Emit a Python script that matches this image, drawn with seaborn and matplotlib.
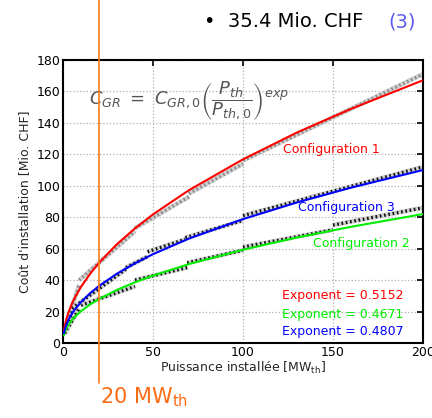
import matplotlib
matplotlib.use("Agg")
import matplotlib.pyplot as plt
import seaborn as sns
import pandas as pd

# fitted curves
power = [0.5, 1, 2, 3, 4, 5.5, 7, 10, 15, 20, 30, 40, 50, 70, 100, 130, 160, 200]
fit_conf1 = [7.6, 10.9, 15.6, 19.3, 22.3, 26.3, 29.7, 35.7, 43.9, 51.0, 62.9, 72.9, 81.8, 97.2, 116.8, 133.9, 148.9, 167.1]
fit_conf2 = [5.0, 6.9, 9.5, 11.5, 13.2, 15.3, 17.1, 20.2, 24.5, 27.9, 33.8, 38.6, 42.9, 50.2, 59.3, 67.1, 73.9, 82.0]
fit_conf3 = [6.2, 8.6, 12.0, 14.6, 16.8, 19.6, 21.9, 26.0, 31.6, 36.3, 44.1, 50.7, 56.5, 66.4, 78.8, 89.4, 98.8, 110.0]

# cost data: piecewise segments (P start, P end, cost start, cost end)
data_conf1 = [(1, 9, 9, 37), (9, 40, 40, 71), (40, 70, 73, 93), (70, 100, 95, 114), (100, 200, 116, 171)]
data_conf2 = [(1, 9, 6, 22), (10, 40, 24, 36), (40, 69, 40, 48), (69, 100, 51, 59), (100, 150, 61, 72), (150, 200, 75, 86)]
data_conf3 = [(1, 5, 6, 20), (5, 35, 22, 47), (35, 47, 48, 55), (47, 68, 58, 66), (68, 100, 67, 78), (100, 200, 81, 112)]

labels = ["Configuration 1", "Configuration 2", "Configuration 3"]
exponents = [0.5152, 0.4671, 0.4807]
colors = ["#ff0000", "#00ee00", "#0000ff"]

sns.set_theme(style="white")
plt.rcParams['font.family'] = ['DejaVu Sans']
plt.rcParams['mathtext.fontset'] = 'dejavusans'

fig = plt.figure(figsize=(4.32, 4.18), dpi=100)
ax = fig.add_axes([0.1458, 0.1794, 0.8333, 0.6771])

# data markers
for segs, dark in [(data_conf1, "#8a8a8a"), (data_conf2, "#111111"), (data_conf3, "#111111")]:
    for p0, p1, c0, c1 in segs:
        ax.plot([p0, p1], [c0, c1], color="#d0d0d0", lw=3.2, solid_capstyle="butt", zorder=2)
        ax.plot([p0, p1], [c0, c1], color=dark, lw=2.4, ls=(0, (0.5, 0.8)), zorder=2)

fits = pd.DataFrame({"P": power, "c1": fit_conf1, "c2": fit_conf2, "c3": fit_conf3})
for col, c in zip(["c1", "c2", "c3"], colors):
    sns.lineplot(data=fits, x="P", y=col, color=c, lw=1.5, ax=ax, zorder=3)

ax.set_xlim(0, 200)
ax.set_ylim(0, 180)
ax.set_xticks([0, 50, 100, 150, 200])
ax.set_yticks(range(0, 181, 20))
ax.grid(True, color="#b0b0b0", ls=":", lw=0.9)
for s in ax.spines.values():
    s.set_color("black")
    s.set_linewidth(1.5)
ax.tick_params(direction="in", length=4, width=1.2, top=True, right=True,
               labelsize=9, colors="black", pad=2)
ax.set_xlabel("Puissance installée [MW$_{\\mathrm{th}}$]", fontsize=9, labelpad=1)
ax.set_ylabel("Coût d'installation [Mio. CHF]", fontsize=9, labelpad=4)

ax.text(122, 122.8, labels[0], color=colors[0], fontsize=9, va="center")
ax.text(130.5, 86.5, labels[2], color=colors[2], fontsize=9, va="center")
ax.text(139, 63.6, labels[1], color=colors[1], fontsize=9, va="center")
for i, yv in zip(range(3), [29.9, 18.4, 7.6]):
    ax.text(121.7, yv, f"Exponent = {exponents[i]}", color=colors[i], fontsize=9, va="center")

ax.text(70, 154, r"$C_{GR}\ =\ C_{GR,0}\left(\dfrac{P_{th}}{P_{th,0}}\right)^{exp}$",
        color="#555555", fontsize=13, ha="center", va="center")

# 20 MW line
ax.axvline(20, ymin=-0.141, ymax=1.25, color="#ff7a1a", lw=1.2, clip_on=False, zorder=5)
fig.text(0.232, 0.035, "20 MW$_{\\mathrm{th}}$", color="#ff6a13", fontsize=15, va="baseline")

fig.text(0.472, 0.935, "•  35.4 Mio. CHF", color="black", fontsize=14, va="baseline")
fig.text(0.898, 0.935, "(3)", color="#5a5aee", fontsize=14, va="baseline")

fig.savefig("out.png", dpi=100)
